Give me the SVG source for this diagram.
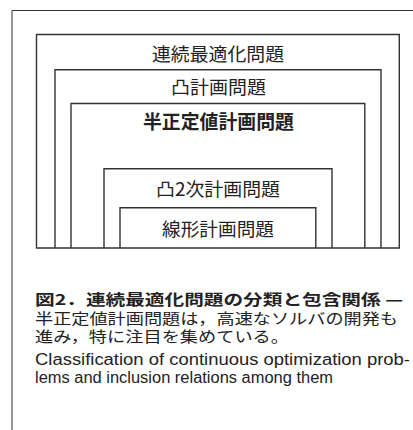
<svg xmlns="http://www.w3.org/2000/svg" width="413" height="430" viewBox="0 0 413 430">
<style>
.frame{fill:none;stroke:#333;stroke-width:1}
.box{fill:none;stroke:#333;stroke-width:1.4}
.lbl{font-family:"Noto Sans CJK JP","Noto Sans",sans-serif;font-size:18.5px;fill:#222}
.bold{font-weight:bold;font-size:19px}
.cap{font-family:"Noto Sans CJK JP",sans-serif;font-size:15px;fill:#222}
.en{font-family:"Liberation Sans",Arial,sans-serif;font-size:16px;fill:#222}
</style>
<rect width="413" height="430" fill="#fff"/>
<path class="frame" d="M12,430 V10.5 H413"/>
<g id="n1"><path class="box" d="M36.5,248 V34.5 H399.3 V248 Z"/><text class="lbl" x="152" y="60.5" textLength="132" lengthAdjust="spacingAndGlyphs">連続最適化問題</text></g>
<g id="n2"><path class="box" d="M55,248 V69.8 H381 V248"/><text class="lbl" x="171" y="94" textLength="95" lengthAdjust="spacingAndGlyphs">凸計画問題</text></g>
<g id="n3"><path class="box" d="M71,248 V103.5 H364.8 V248"/><text class="lbl bold" x="143" y="128.5" textLength="151" lengthAdjust="spacingAndGlyphs">半正定値計画問題</text></g>
<g id="n4"><path class="box" d="M104,248 V168.8 H332 V248"/><text class="lbl" x="156" y="195.5" textLength="124" lengthAdjust="spacingAndGlyphs">凸2次計画問題</text></g>
<g id="n5"><path class="box" d="M120,248 V207.8 H315.8 V248"/><text class="lbl" x="162" y="235.5" textLength="112" lengthAdjust="spacingAndGlyphs">線形計画問題</text></g>
<g id="connectors"></g>
<g id="caption">
<text class="cap" x="35" y="304.5" font-weight="bold" textLength="368" lengthAdjust="spacingAndGlyphs">図2．連続最適化問題の分類と包含関係 —</text>
<text class="cap" x="35" y="323.5" textLength="363" lengthAdjust="spacingAndGlyphs">半正定値計画問題は，高速なソルバの開発も</text>
<text class="cap" x="35" y="342" textLength="254" lengthAdjust="spacingAndGlyphs">進み，特に注目を集めている。</text>
<text class="en" x="35" y="364.5" textLength="375" lengthAdjust="spacingAndGlyphs">Classification of continuous optimization prob-</text>
<text class="en" x="35" y="382.5" textLength="298" lengthAdjust="spacingAndGlyphs">lems and inclusion relations among them</text>
</g>
</svg>
